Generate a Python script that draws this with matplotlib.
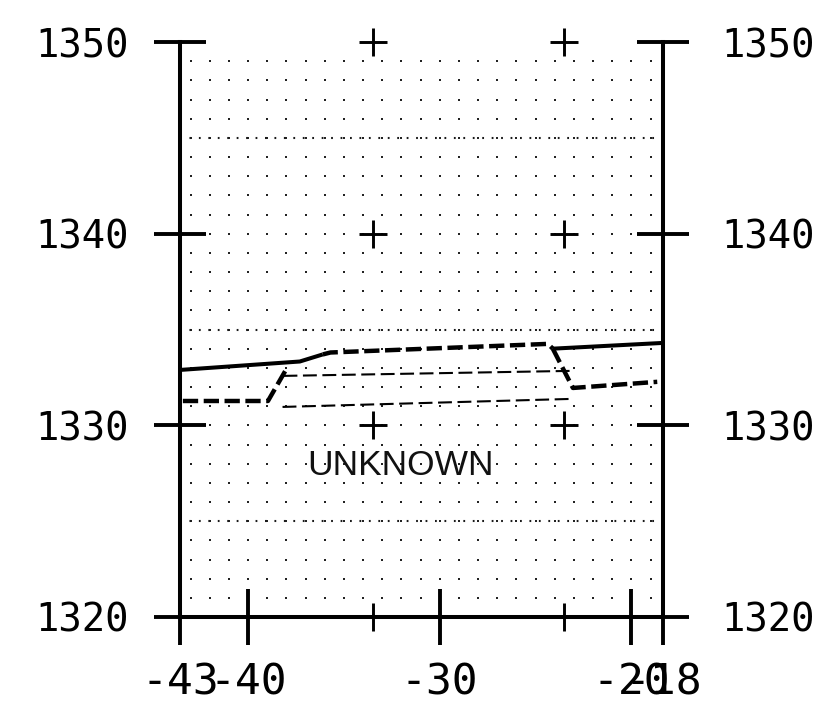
import numpy as np
import matplotlib
matplotlib.use("Agg")
import matplotlib.pyplot as plt

plt.rcParams['font.family'] = ['DejaVu Sans']
plt.rcParams['lines.scale_dashes'] = False

# axis range and labels (edges are labelled rounded)
x_min, x_max = -43.55, -18.35
y_min, y_max = 1320, 1350
x_ticks = [-43.55, -40, -30, -20, -18.35]
x_labels = ["-43", "-40", "-30", "-20", "-18"]
y_ticks = [1320, 1330, 1340, 1350]
y_labels = ["1320", "1330", "1340", "1350"]
cross_x = [-33.5, -23.5]

# surface lines
solid_left_x = [-43.55, -37.3, -36.1]
solid_left_y = [1332.89, 1333.33, 1333.7]
solid_right_x = [-24.1, -18.35]
solid_right_y = [1334.0, 1334.3]
heavy_top_x = [-36.1, -35.7, -24.35, -24.1]
heavy_top_y = [1333.7, 1333.8, 1334.25, 1334.0]
heavy_right_x = [-24.1, -23.05, -18.65]
heavy_right_y = [1334.0, 1331.95, 1332.27]
heavy_left_x = [-43.4, -38.96, -38.05]
heavy_left_y = [1331.27, 1331.27, 1332.85]
thin_top_x = [-38.15, -23.2]
thin_top_y = [1332.58, 1332.84]
thin_bot_x = [-38.2, -23.1]
thin_bot_y = [1330.96, 1331.38]

dotted_rows = [1325, 1335, 1345]
label_text = "UNKNOWN"
label_pos = (-32.07, 1327.93)

fig = plt.figure(figsize=(8.25, 7.11), dpi=100)
ax = fig.add_axes([180 / 825, (711 - 617) / 711, (663 - 180) / 825, (617 - 42) / 711])
ax.set_xlim(x_min, x_max)
ax.set_ylim(y_min, y_max)

# background dot grid
gx, gy = np.meshgrid(np.arange(-43, -18), np.arange(1321, 1350))
ax.plot(gx.ravel(), gy.ravel(), 's', ms=1.7, mew=0, color='#222222', zorder=1)
for r in dotted_rows:
    ax.axhline(r, color='#1a1a1a', lw=1.5, dashes=(1.3, 5.5), zorder=1)

# crosses
for cx in cross_x:
    ax.plot([cx] * len(y_ticks), y_ticks, '+', ms=19.5, mew=2.1, color='black',
            clip_on=False, zorder=5)

ax.plot(solid_left_x, solid_left_y, color='black', lw=2.9, solid_capstyle='butt')
ax.plot(solid_right_x, solid_right_y, color='black', lw=2.9, solid_capstyle='butt')
for xs, ys in [(heavy_top_x, heavy_top_y), (heavy_right_x, heavy_right_y),
               (heavy_left_x, heavy_left_y)]:
    ax.plot(xs, ys, color='black', lw=3.2, dashes=(11, 4))
for xs, ys in [(thin_top_x, thin_top_y), (thin_bot_x, thin_bot_y)]:
    ax.plot(xs, ys, color='black', lw=1.5, dashes=(10, 4))

ax.text(label_pos[0], label_pos[1], label_text, fontsize=25.5,
        family=['Liberation Sans', 'DejaVu Sans'],
        ha='center', va='center', color='#111111')

# frame: no top spine
ax.spines['top'].set_visible(False)
for s in ['left', 'right', 'bottom']:
    ax.spines[s].set_linewidth(2.9)

ax.set_xticks(x_ticks, x_labels)
ax.set_yticks(y_ticks, y_labels)
ax.tick_params(axis='x', direction='inout', length=40, width=2.8, pad=12,
               labelsize=31, labelfontfamily='DejaVu Sans Mono')
ax.tick_params(axis='y', direction='inout', length=38, width=2.8, pad=18,
               labelsize=28, left=True, right=True,
               labelfontfamily='DejaVu Sans Mono')
ax.set_xticks(cross_x, minor=True)
ax.tick_params(axis='x', which='minor', length=0)

ax2 = ax.twinx()
ax2.set_ylim(y_min, y_max)
ax2.set_yticks(y_ticks, y_labels)
ax2.tick_params(axis='y', direction='inout', length=38, width=2.8, pad=23,
                labelsize=28, labelfontfamily='DejaVu Sans Mono')
for s in ax2.spines.values():
    s.set_visible(False)

fig.savefig("out.png", dpi=100, facecolor='white')
